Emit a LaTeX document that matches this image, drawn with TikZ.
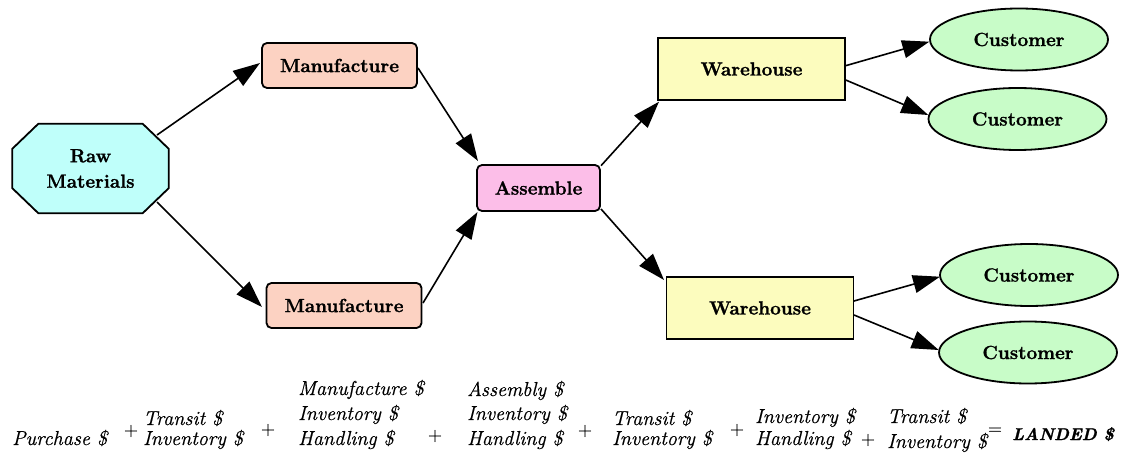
\documentclass[tikz,border=0pt]{standalone}
\usepackage{fontspec}
\setmainfont{Latin Modern Roman}[BoldFeatures={FakeBold=1.3}, ItalicFeatures={FakeBold=0.6}, BoldItalicFeatures={FakeBold=1.3}, UprightFeatures={FakeBold=0.4}]
\usetikzlibrary{arrows.meta,backgrounds,shapes.geometric}

\definecolor{rawc}{RGB}{191,255,250}
\definecolor{manc}{RGB}{252,210,194}
\definecolor{asmc}{RGB}{252,190,232}
\definecolor{whc}{RGB}{252,252,190}
\definecolor{cusc}{RGB}{200,252,200}

\begin{document}
\begin{tikzpicture}[x=1pt,y=-1pt,
  lbl/.style={font=\fontsize{19}{25.5}\selectfont\bfseries, align=center, inner sep=0pt, text=black},
  box/.style={lbl, draw=black, line width=1.8pt},
  mbox/.style={box, rounded corners=5pt, fill=manc, minimum width=155pt, minimum height=45pt},
  abox/.style={box, rounded corners=5pt, fill=asmc, minimum width=123pt, minimum height=46pt},
  wbox/.style={box, fill=whc, minimum width=187pt, minimum height=62pt},
  cust/.style={box, ellipse, fill=cusc, minimum width=178pt, minimum height=62pt},
  edge/.style={line width=1.6pt, -{Triangle[length=27pt,width=18pt]}},
  eq/.style={font=\fontsize{20.2}{24}\selectfont\itshape, inner sep=0pt, anchor=base west},
  op/.style={font=\fontsize{19}{20}\selectfont, inner sep=0pt}
]
\useasboundingbox (0,0) rectangle (1126,454);

% nodes
\node[lbl, minimum width=156pt, minimum height=89pt] (raw) at (90.5,168.5) {Raw\\Materials};
\begin{scope}[on background layer]
\filldraw[fill=rawc, draw=black, line width=1.8pt]
  ([xshift=26pt]raw.north west) -- ([xshift=-26pt]raw.north east)
  -- ([yshift=-25pt]raw.north east) -- ([yshift=25pt]raw.south east)
  -- ([xshift=-26pt]raw.south east) -- ([xshift=26pt]raw.south west)
  -- ([yshift=25pt]raw.south west) -- ([yshift=-25pt]raw.north west) -- cycle;
\end{scope}

\node[mbox] (m1) at (339.5,65.5) {Manufacture};
\node[mbox] (m2) at (344,305.5) {Manufacture};
\node[abox] (asm) at (538.5,188) {Assemble};
\node[wbox] (w1) at (751.5,69) {Warehouse};
\node[wbox] (w2) at (760,308) {Warehouse};
\node[cust] (c1) at (1019,39.5) {Customer};
\node[cust] (c2) at (1017.5,119) {Customer};
\node[cust] (c3) at (1029,275) {Customer};
\node[cust] (c4) at (1028,352.5) {Customer};

% connectors
\draw[edge] ([shift={(66.5,-33.5)}]raw.center) -- ([shift={(-79.5,-2.5)}]m1.center);
\draw[edge] ([shift={(66.5,33.5)}]raw.center) -- ([shift={(-82,1.5)}]m2.center);
\draw[edge] ([shift={(78.5,2.5)}]m1.center) -- ([shift={(-60.5,-27)}]asm.center);
\draw[edge] ([shift={(79,-2.5)}]m2.center) -- ([shift={(-61,24)}]asm.center);
\draw[edge] ([shift={(62.5,-22.3)}]asm.center) -- ([shift={(-92.5,32.7)}]w1.center);
\draw[edge] ([shift={(62.5,21)}]asm.center) -- ([shift={(-96,-28)}]w2.center);
\draw[edge] ([shift={(94.2,-3.3)}]w1.center) -- ([shift={(-89.7,2.2)}]c1.center);
\draw[edge] ([shift={(94.2,11)}]w1.center) -- ([shift={(-89.2,-4)}]c2.center);
\draw[edge] ([shift={(94,-7)}]w2.center) -- ([shift={(-89,1.7)}]c3.center);
\draw[edge] ([shift={(94,7)}]w2.center) -- ([shift={(-89.3,-2.5)}]c4.center);

% cost formula
\node[eq] (pur) at (12,445) {Purchase \$};
\node[op] (pl1) at (131,431) {+};
\node[eq] (t1a) at (143,425) {Transit \$};
\node[eq] (t1b) at (143,445) {Inventory \$};
\node[op] (pl2) at (268,430) {+};
\node[eq] (m3a) at (298,395) {Manufacture \$};
\node[eq] (m3b) at (298,420) {Inventory \$};
\node[eq] (m3c) at (298,445) {Handling \$};
\node[op] (pl3) at (435,436) {+};
\node[eq] (a3a) at (467,396) {Assembly \$};
\node[eq] (a3b) at (467,420) {Inventory \$};
\node[eq] (a3c) at (467,445) {Handling \$};
\node[op] (pl4) at (585,431) {+};
\node[eq] (t2a) at (612,425) {Transit \$};
\node[eq] (t2b) at (612,445) {Inventory \$};
\node[op] (pl5) at (737,430) {+};
\node[eq] (i3a) at (755,423) {Inventory \$};
\node[eq] (i3b) at (755,445) {Handling \$};
\node[op] (pl6) at (868,440) {+};
\node[eq] (t3a) at (887,423) {Transit \$};
\node[eq] (t3b) at (887,448) {Inventory \$};
\node[op] (eqs) at (995,431) {=};
\node[eq, font=\fontsize{17}{24}\selectfont\bfseries\itshape] (landed) at (1012,440) {LANDED \$};
\end{tikzpicture}
\end{document}
